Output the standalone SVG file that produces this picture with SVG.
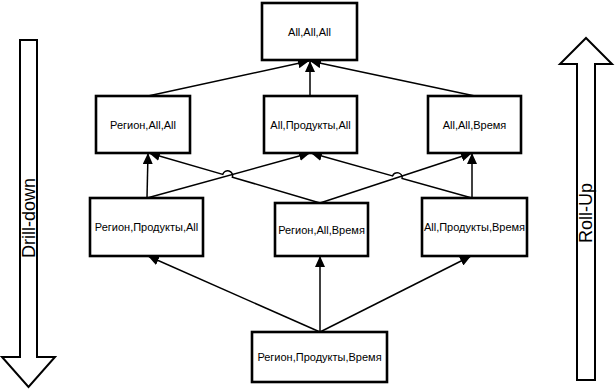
<svg xmlns="http://www.w3.org/2000/svg" width="616" height="389" viewBox="0 0 616 389">
<style>
.box{fill:#fff;stroke:#000;stroke-width:2.6}
.lbl{font-family:"Liberation Sans",Arial,sans-serif;font-size:11px;fill:#000;text-anchor:middle;dominant-baseline:central}
.con{fill:none;stroke:#000;stroke-width:1.5;marker-end:url(#ah)}
.big{fill:#fff;stroke:#000;stroke-width:2;stroke-linejoin:miter}
.side{font-family:"Liberation Sans",Arial,sans-serif;font-size:18px;fill:#000;text-anchor:middle;dominant-baseline:central}
</style>
<defs>
<marker id="ah" markerUnits="userSpaceOnUse" markerWidth="12" markerHeight="10" refX="11" refY="5" orient="auto">
<path d="M0,0 L11,5 L0,10 Z" fill="#000"/>
</marker>
</defs>
<g id="drill-down">
<path class="big" d="M20,40 L37,40 L37,357 L55,357 L28.5,387 L2,357 L20,357 Z"/>
<text class="side" transform="translate(28.5,218) rotate(-90)">Drill-down</text>
</g>
<g id="roll-up">
<path class="big" d="M577,380 L577,64 L560,64 L586,38 L612,64 L595,64 L595,380 Z"/>
<text class="side" transform="translate(586,213) rotate(-90)">Roll-Up</text>
</g>
<g id="connectors">
<path class="con" d="M148,96 L309,61"/>
<path class="con" d="M310,96 L310,61"/>
<path class="con" d="M475,96 L310,61"/>
<path class="con" d="M147,198 L148,153"/>
<path class="con" d="M147,198 L310,153"/>
<path class="con" d="M320,203 L232.4,177.2 A5,5 0 0 0 222.8,174.4 L149,153"/>
<path class="con" d="M320,203 L472,153"/>
<path class="con" d="M472,198 L402.1,178.5 A5,5 0 0 0 392.5,175.9 L311,153"/>
<path class="con" d="M472,198 L472,153"/>
<path class="con" d="M320,332 L148,256"/>
<path class="con" d="M320,332 L320,256"/>
<path class="con" d="M320,332 L471,256"/>
</g>
<g id="n-all-all-all">
<rect class="box" x="262" y="3" width="95" height="57"/>
<text class="lbl" x="309.5" y="31.5">All,All,All</text>
</g>
<g id="n-region-all-all">
<rect class="box" x="96" y="96" width="94" height="57"/>
<text class="lbl" x="143" y="124.5">Регион,All,All</text>
</g>
<g id="n-all-prod-all">
<rect class="box" x="264" y="96" width="93" height="57"/>
<text class="lbl" x="310.5" y="124.5">All,Продукты,All</text>
</g>
<g id="n-all-all-time">
<rect class="box" x="428" y="96" width="93" height="57"/>
<text class="lbl" x="474.5" y="124.5">All,All,Время</text>
</g>
<g id="n-region-prod-all">
<rect class="box" x="90" y="198" width="113" height="58"/>
<text class="lbl" x="146.5" y="227">Регион,Продукты,All</text>
</g>
<g id="n-region-all-time">
<rect class="box" x="275" y="203" width="93" height="53"/>
<text class="lbl" x="321.5" y="229.5">Регион,All,Время</text>
</g>
<g id="n-all-prod-time">
<rect class="box" x="422" y="198" width="105" height="58"/>
<text class="lbl" x="474.5" y="227">All,Продукты,Время</text>
</g>
<g id="n-region-prod-time">
<rect class="box" x="252" y="332" width="135" height="50"/>
<text class="lbl" x="319.5" y="357">Регион,Продукты,Время</text>
</g>
</svg>
